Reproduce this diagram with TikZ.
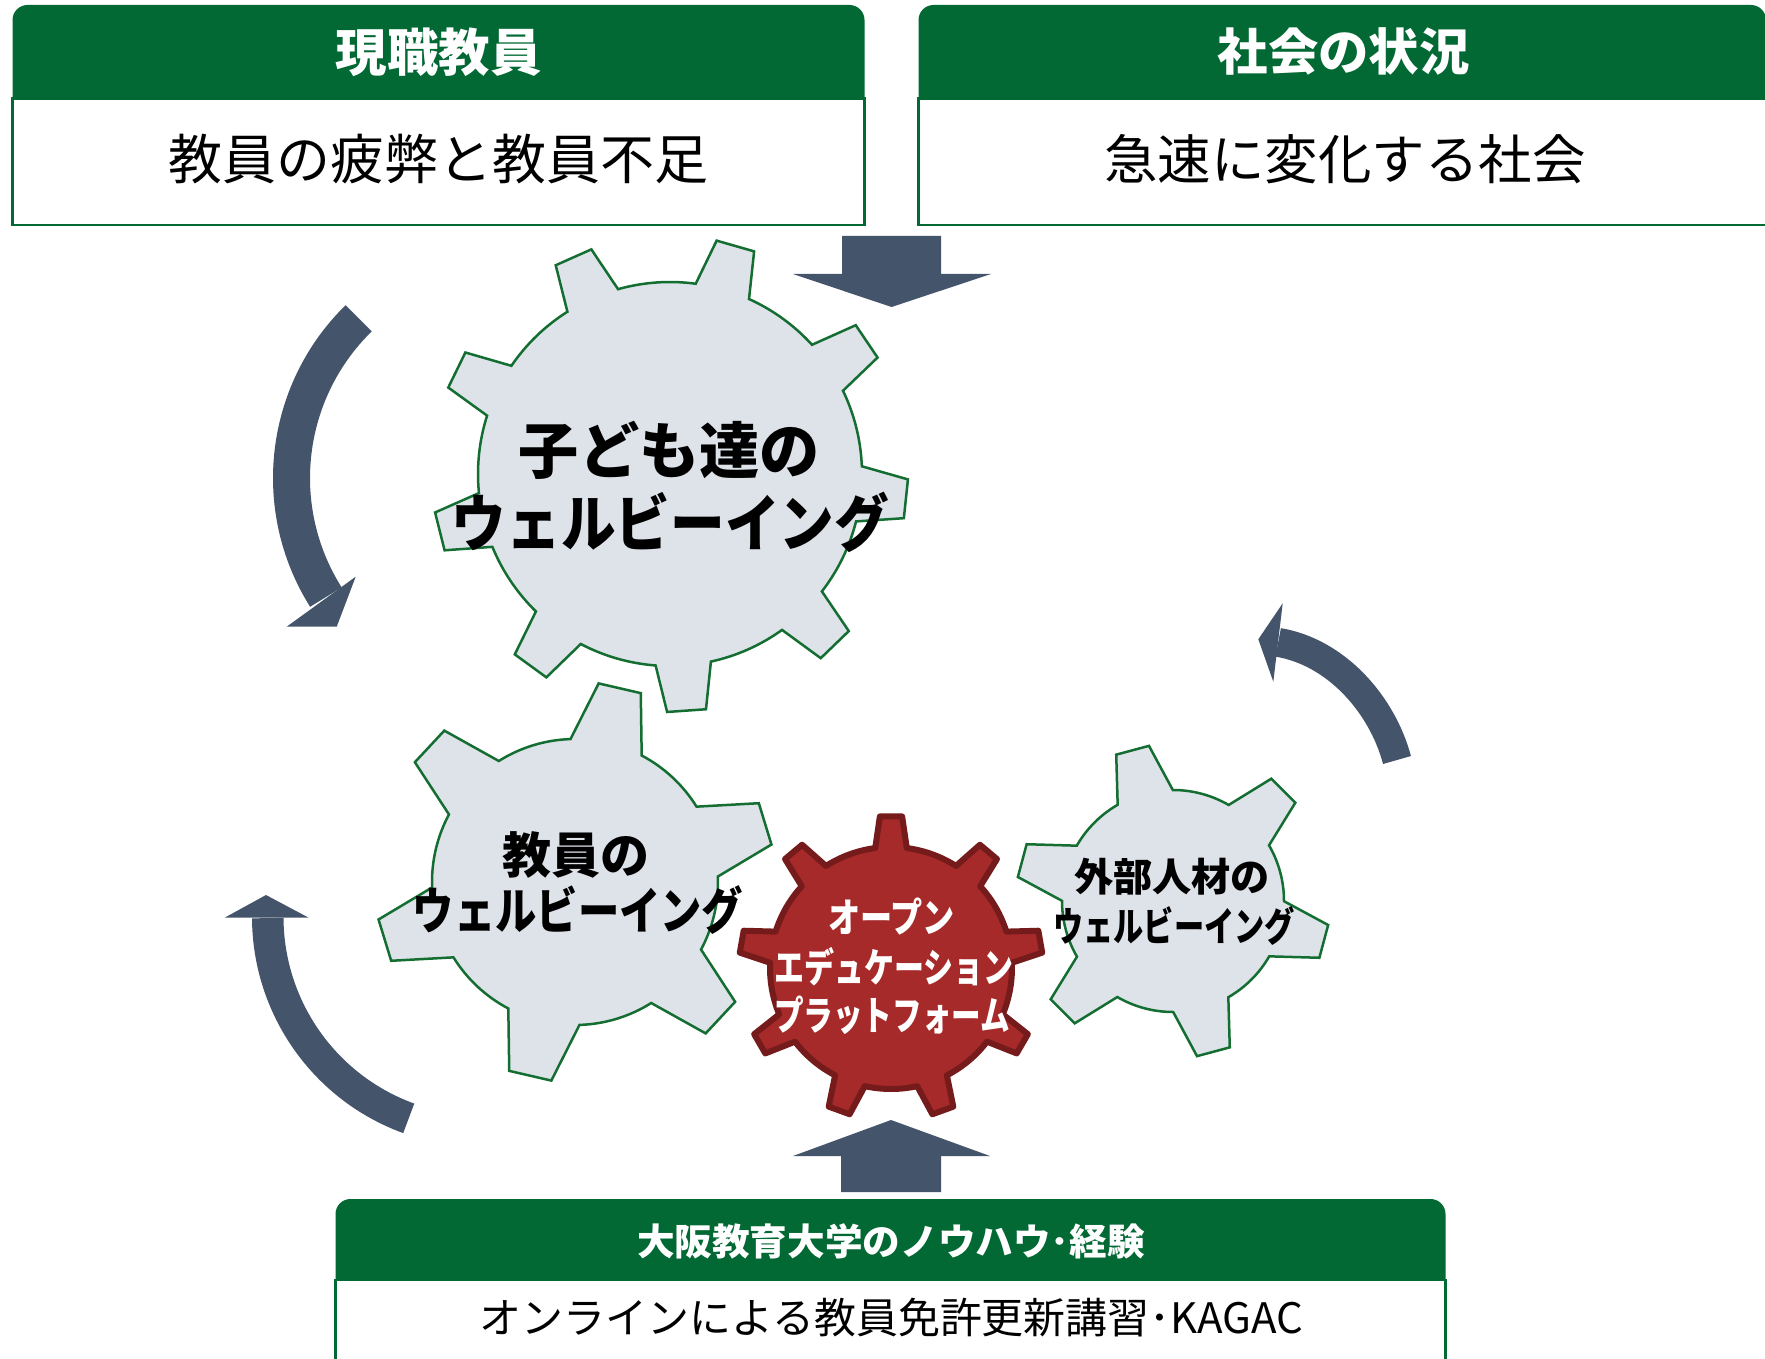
\documentclass[tikz,border=0pt]{standalone}
\usepackage{fontspec}
\usepackage{graphicx}
\newfontfamily\jp{Noto Sans CJK JP}
\definecolor{hdrgreen}{RGB}{3,105,52}
\definecolor{gearfill}{RGB}{222,227,234}
\definecolor{gearline}{RGB}{20,110,50}
\definecolor{redfill}{RGB}{166,42,41}
\definecolor{redline}{RGB}{118,27,27}
\definecolor{arrowcol}{RGB}{68,84,106}
\newcommand\fw[2]{\resizebox{#1pt}{\height}{#2}}
% style, center, R, Rt, N, a1, a2, offset
\newcommand\gear[8]{%
  \path[#1,shift={(#2)}] ({#8-#6}:#3)
   \foreach \k in {1,...,#5}{
     -- ({#8+(\k-1)*360/#5-#6}:#3)
     -- ({#8+(\k-1)*360/#5-#7}:#4)
     -- ({#8+(\k-1)*360/#5+#7}:#4)
     -- ({#8+(\k-1)*360/#5+#6}:#3)
     arc[start angle={#8+(\k-1)*360/#5+#6}, delta angle={360/#5-2*#6}, radius=#3]
   } -- cycle;}
\begin{document}
\begin{tikzpicture}[x=1pt,y=-1pt,
  hdr/.style={fill=hdrgreen, rounded corners=15pt},
  bodybox/.style={draw=hdrgreen, line width=2.5pt, fill=white},
  bluegear/.style={fill=gearfill, draw=gearline, line width=2.5pt, line join=miter},
  redgear/.style={fill=redfill, draw=redline, line width=6pt, line join=round},
  blockarrow/.style={fill=arrowcol},
  bandarrow/.style={draw=arrowcol, line cap=butt},
  lbl/.style={inner sep=0pt, outer sep=0pt, anchor=center},
  jb/.style={font=\jp\bfseries\fontsize{#1}{#1}\selectfont},
  jr/.style={font=\jp\fontsize{#1}{#1}\selectfont}]
\useasboundingbox (0,0) rectangle (1765,1359);
\clip (0,0) rectangle (1765,1359);
\fill[white] (0,0) rectangle (1765,1359);

% top-left box
\fill[hdr] (12.5,5) rectangle (864.5,125);
\draw[bodybox] (12.5,98.5) rectangle (864.5,225);
% top-right box
\fill[hdr] (918.5,5) rectangle (1766,125);
\draw[bodybox] (918.5,98.5) rectangle (1766,225);
% bottom box
\fill[hdr] (335.5,1199) rectangle (1445.5,1310);
\draw[bodybox] (335.5,1280) rectangle (1445.5,1390);

% straight block arrows
\fill[blockarrow] (842,236) -- (941,236) -- (941,274) -- (991,274) -- (891.5,307) -- (793,274) -- (842,274) -- cycle;
\fill[blockarrow] (841,1192) -- (941,1192) -- (941,1156) -- (990,1156) -- (891,1120) -- (793,1156) -- (841,1156) -- cycle;

% curved arrow A (upper left, pointing down)
\draw[bandarrow, line width=37pt] (515,478) ++(225.6:223.5) arc[start angle=225.6, end angle=147.8, radius=223.5];
\fill[blockarrow] (286.7,626.7) -- (336.7,626.7) -- (355.7,576.7) -- cycle;
% curved arrow B (lower left, pointing up)
\draw[bandarrow, line width=31.5pt] (482,917) ++(110:214.25) arc[start angle=110, end angle=179.7, radius=214.25];
\fill[blockarrow] (225,917.5) -- (266,895) -- (308.3,917.5) -- cycle;
% curved arrow C (right, pointing up-left)
\draw[bandarrow, line width=29pt] (1397,760) .. controls (1382,704) and (1336,652) .. (1278.2,642.4);
\fill[blockarrow] (1282.7,603.3) -- (1258.3,639.3) -- (1273.3,681.7) -- cycle;

% gears
\gear{bluegear}{670,474}{192}{238}{9}{8.3}{4.7}{-74}
\gear{bluegear}{575,882}{143}{200}{6}{14.8}{6.2}{-17}
\gear{redgear}{891,968}{121}{152}{9}{7.5}{4.2}{-90}
\gear{bluegear}{1173,901}{111}{157}{6}{14.9}{6.2}{-45}

% box texts
\node[lbl,jb=51,text=white] (h1) at (438.5,52) {\fw{206}{現職教員}};
\node[lbl,jr=54] (b1) at (438,159) {\fw{540}{教員の疲弊と教員不足}};
\node[lbl,jb=50,text=white] (h2) at (1343.6,52) {\fw{252}{社会の状況}};
\node[lbl,jr=53.5] (b2) at (1345,159) {\fw{481}{急速に変化する社会}};
\node[lbl,jb=37,text=white] (h3) at (891,1241) {\fw{508}{大阪教育大学のノウハウ･経験}};
\node[lbl,jr=42] (b3) at (891.4,1318) {\fw{823}{オンラインによる教員免許更新講習･KAGAC}};

% gear texts
\node[lbl,jb=61] (g1a) at (669.4,450) {\fw{301}{子ども達の}};
\node[lbl,jb=62] (g1b) at (670.4,522) {\fw{437}{ウェルビーイング}};
\node[lbl,jb=49] (g2a) at (575.8,855) {\fw{147}{教員の}};
\node[lbl,jb=50] (g2b) at (578,910) {\fw{330.6}{ウェルビーイング}};
\node[lbl,jb=40,text=white] (g3a) at (891.7,916.7) {\fw{126.7}{オープン}};
\node[lbl,jb=40,text=white] (g3b) at (893.7,967) {\fw{239.3}{エデュケーション}};
\node[lbl,jb=40,text=white] (g3c) at (892,1015) {\fw{236}{プラットフォーム}};
\node[lbl,jb=39] (g4a) at (1172,876.7) {\fw{196}{外部人材の}};
\node[lbl,jb=40] (g4b) at (1174,925.8) {\fw{241.7}{ウェルビーイング}};
\end{tikzpicture}
\end{document}
